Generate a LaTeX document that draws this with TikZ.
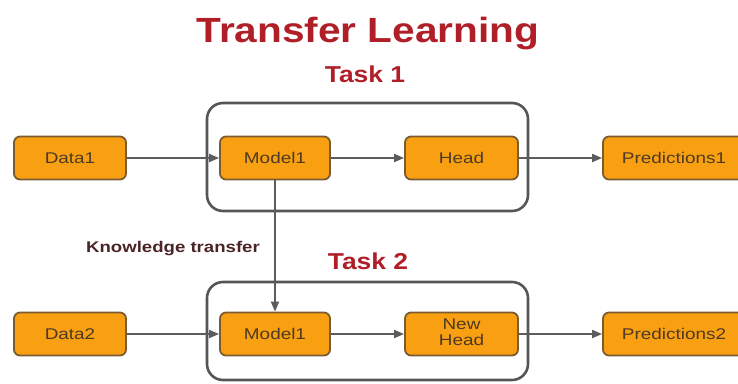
\documentclass[tikz,border=0pt]{standalone}
\usepackage{fontspec}
\setmainfont{Liberation Sans}
\usepackage{graphicx}
\usetikzlibrary{arrows.meta}

\definecolor{titlered}{HTML}{B01E28}
\definecolor{boxfill}{HTML}{F8A012}
\definecolor{boxedge}{HTML}{7A5C30}
\definecolor{boxtext}{HTML}{4E3A22}
\definecolor{linegray}{HTML}{5C5C5C}
\definecolor{frame}{HTML}{555555}
\definecolor{notecol}{HTML}{4A2426}

% horizontally widened text, as in the drawing
\newcommand\widetxt[1]{\scalebox{1.22}[1]{#1}}

\tikzset{
  stagebox/.style={draw=boxedge, fill=boxfill, line width=1.8pt,
    rounded corners=6pt, minimum height=43pt, inner sep=0pt,
    text=boxtext, font=\fontsize{15.5}{18}\selectfont},
  taskframe/.style={draw=frame, line width=2.6pt, rounded corners=16pt},
  flow/.style={draw=linegray, line width=1.8pt,
    -{Triangle[length=10pt,width=8pt]}},
  tasklabel/.style={text=titlered, anchor=base,
    font=\fontsize{23}{26}\bfseries\selectfont},
}

\begin{document}
\begin{tikzpicture}[x=1pt,y=-1pt]
\useasboundingbox (0,0) rectangle (738,383);

% title and section labels
\node[text=titlered, anchor=base, font=\fontsize{35}{40}\bfseries\selectfont]
  (title) at (368,42) {\scalebox{1.16}[1]{Transfer Learning}};
\node[tasklabel] (t1) at (365,82) {\scalebox{1.15}[1]{Task 1}};
\node[tasklabel] (t2) at (368,269) {\scalebox{1.15}[1]{Task 2}};
\node[text=notecol, anchor=base, font=\fontsize{15.5}{18}\bfseries\selectfont]
  (kt) at (173,252) {\scalebox{1.2}[1]{Knowledge transfer}};

% task frames
\draw[taskframe] (207,103) rectangle (528,211);
\draw[taskframe] (207,282) rectangle (528,380);

% first row
\node[stagebox, minimum width=112pt] (d1) at (70,158) {\widetxt{Data1}};
\node[stagebox, minimum width=110pt] (m1) at (275,158) {\widetxt{Model1}};
\node[stagebox, minimum width=113pt] (h1) at (461.5,158) {\widetxt{Head}};
\node[stagebox, minimum width=142pt] (p1) at (674,158) {\widetxt{Predictions1}};

% second row
\node[stagebox, minimum width=112pt] (d2) at (70,334) {\widetxt{Data2}};
\node[stagebox, minimum width=110pt] (m2) at (275,334) {\widetxt{Model1}};
\node[stagebox, minimum width=113pt] (h2) at (461.5,334)
  {\widetxt{\begin{tabular}{@{}c@{}}New\\[-2pt]Head\end{tabular}}};
\node[stagebox, minimum width=142pt] (p2) at (674,334) {\widetxt{Predictions2}};

% connectors
\draw[flow] (d1) -- (m1);
\draw[flow] (m1) -- (h1);
\draw[flow] (h1) -- (p1);
\draw[flow] (d2) -- (m2);
\draw[flow] (m2) -- (h2);
\draw[flow] (h2) -- (p2);
\draw[flow] (m1) -- (m2);
\end{tikzpicture}
\end{document}
